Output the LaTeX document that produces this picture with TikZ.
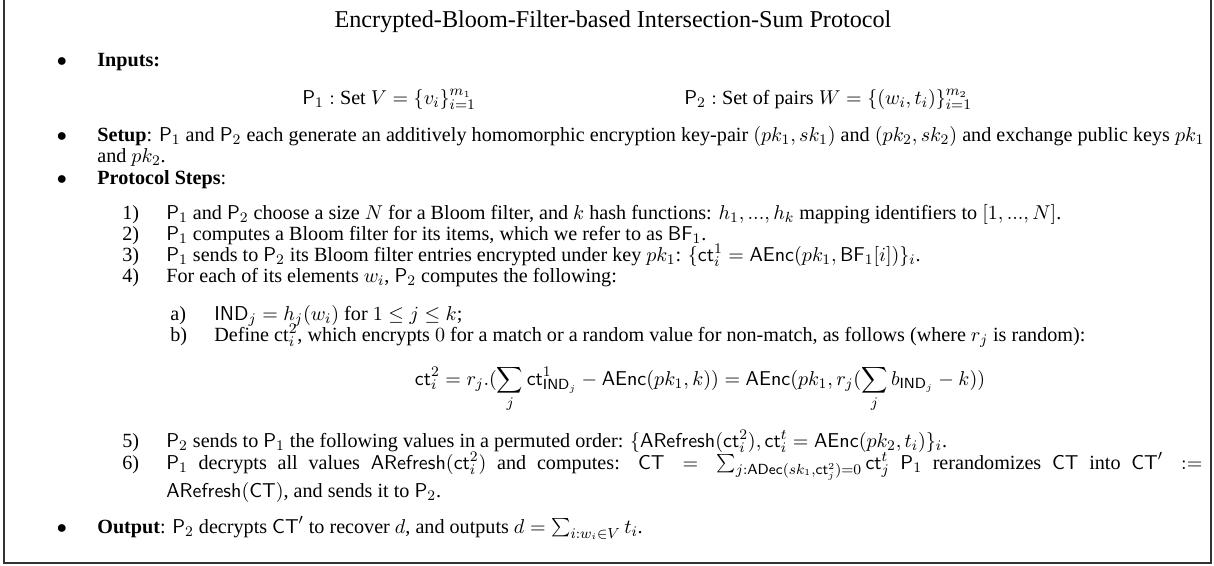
\documentclass[tikz,border=0pt]{standalone}
\usepackage[no-math]{fontspec}
\setmainfont{Liberation Serif}
\newlength\pxunit
\setlength\pxunit{0.546pt}
% stretch one line of a justified paragraph to a width given in px
\newcommand\spreadline[2]{\makebox[#1\pxunit][s]{#2}}
\tikzset{
  txt/.style={anchor=base west, inner sep=0pt, font=\fontsize{11}{13}\selectfont},
  centred/.style={anchor=base, inner sep=0pt, font=\fontsize{11}{13}\selectfont}
}
\begin{document}
\begin{tikzpicture}[x=0.546pt, y=-0.546pt]
                \useasboundingbox (0,0) rectangle (1214,565);
                \draw[line width=1pt, black!80] (4,-6) rectangle (1211,563);
                % Title
                \node[anchor=base, inner sep=0pt, font=\fontsize{13.2}{15}\selectfont] (title) at (613, 27) {Encrypted-Bloom-Filter-based Intersection-Sum Protocol};
                % Inputs
                \node[centred] (b1) at (62, 66) {$\bullet$};
                \node[txt] (inputs) at (97, 66) {\textbf{Inputs:}};
                \node[txt] (inone) at (302, 104) {$\mathsf{P}_1 :$ Set $V = \{v_i\}_{i=1}^{m_1}$};
                \node[txt] (intwo) at (684, 104) {$\mathsf{P}_2 :$ Set of pairs $W = \{(w_i, t_i)\}_{i=1}^{m_2}$};
                % Setup
                \node[centred] (b2) at (62, 141) {$\bullet$};
                \node[txt] (setup) at (97, 141) {\spreadline{1107}{\textbf{Setup}: $\mathsf{P}_1$ and $\mathsf{P}_2$ each generate an additively homomorphic encryption key-pair $(pk_1, sk_1)$ and $(pk_2, sk_2)$ and exchange public keys $pk_1$}};
                \node[txt] (setupb) at (97, 162) {and $pk_2$.};
                % Protocol steps
                \node[centred] (b3) at (62, 184) {$\bullet$};
                \node[txt] (steps) at (97, 184) {\textbf{Protocol Steps}:};
                \node[txt] (n1) at (122, 219) {1)};
                \node[txt] (s1) at (166, 219) {$\mathsf{P}_1$ and $\mathsf{P}_2$ choose a size $N$ for a Bloom filter, and $k$ hash functions: $h_1, ..., h_k$ mapping identifiers to $[1, ..., N]$.};
                \node[txt] (n2) at (122, 240) {2)};
                \node[txt] (s2) at (166, 240) {$\mathsf{P}_1$ computes a Bloom filter for its items, which we refer to as $\mathsf{BF}_1$.};
                \node[txt] (n3) at (122, 261) {3)};
                \node[txt] (s3) at (166, 261) {$\mathsf{P}_1$ sends to $\mathsf{P}_2$ its Bloom filter entries encrypted under key $pk_1$: $\{\mathsf{ct}_i^1 = \mathsf{AEnc}(pk_1, \mathsf{BF}_1[i])\}_i$.};
                \node[txt] (n4) at (122, 282) {4)};
                \node[txt] (s4) at (166, 282) {For each of its elements $w_i$, $\mathsf{P}_2$ computes the following:};
                \node[txt] (na) at (170, 320) {a)};
                \node[txt] (sa) at (214, 320) {$\mathsf{IND}_j = h_j(w_i)$ for $1 \leq j \leq k$;};
                \node[txt] (nb) at (170, 341) {b)};
                \node[txt] (sb) at (214, 341) {Define ct$_i^2$, which encrypts $0$ for a match or a random value for non-match, as follows (where $r_j$ is random):};
                \node[centred] (eq) at (700, 385) {$\displaystyle \mathsf{ct}_i^2 = r_j.(\sum_j \mathsf{ct}^1_{\mathsf{IND}_j} - \mathsf{AEnc}(pk_1, k)) = \mathsf{AEnc}(pk_1, r_j(\sum_j b_{\mathsf{IND}_j} - k))$};
                \node[txt] (n5) at (122, 447) {5)};
                \node[txt] (s5) at (166, 447) {$\mathsf{P}_2$ sends to $\mathsf{P}_1$ the following values in a permuted order: $\{\mathsf{ARefresh}(\mathsf{ct}_i^2), \mathsf{ct}_i^t = \mathsf{AEnc}(pk_2, t_i)\}_i$.};
                \node[txt] (n6) at (122, 469) {6)};
                \node[txt] (s6) at (166, 469) {\spreadline{1036}{$\mathsf{P}_1$ decrypts all values $\mathsf{ARefresh}(\mathsf{ct}_i^2)$ and computes: $\mathsf{CT} = \sum_{j:\mathsf{ADec}(sk_1, \mathsf{ct}_j^2) = 0} \mathsf{ct}_j^t$ $\mathsf{P}_1$ rerandomizes $\mathsf{CT}$ into $\mathsf{CT}' :=$}};
                \node[txt] (s6b) at (166, 497) {$\mathsf{ARefresh}(\mathsf{CT})$, and sends it to $\mathsf{P}_2$.};
                % Output
                \node[centred] (b4) at (62, 533) {$\bullet$};
                \node[txt] (output) at (97, 533) {\textbf{Output}: $\mathsf{P}_2$ decrypts $\mathsf{CT}'$ to recover $d$, and outputs $d = \sum_{i:w_i \in V} t_i$.};
            \end{tikzpicture}
\end{document}
